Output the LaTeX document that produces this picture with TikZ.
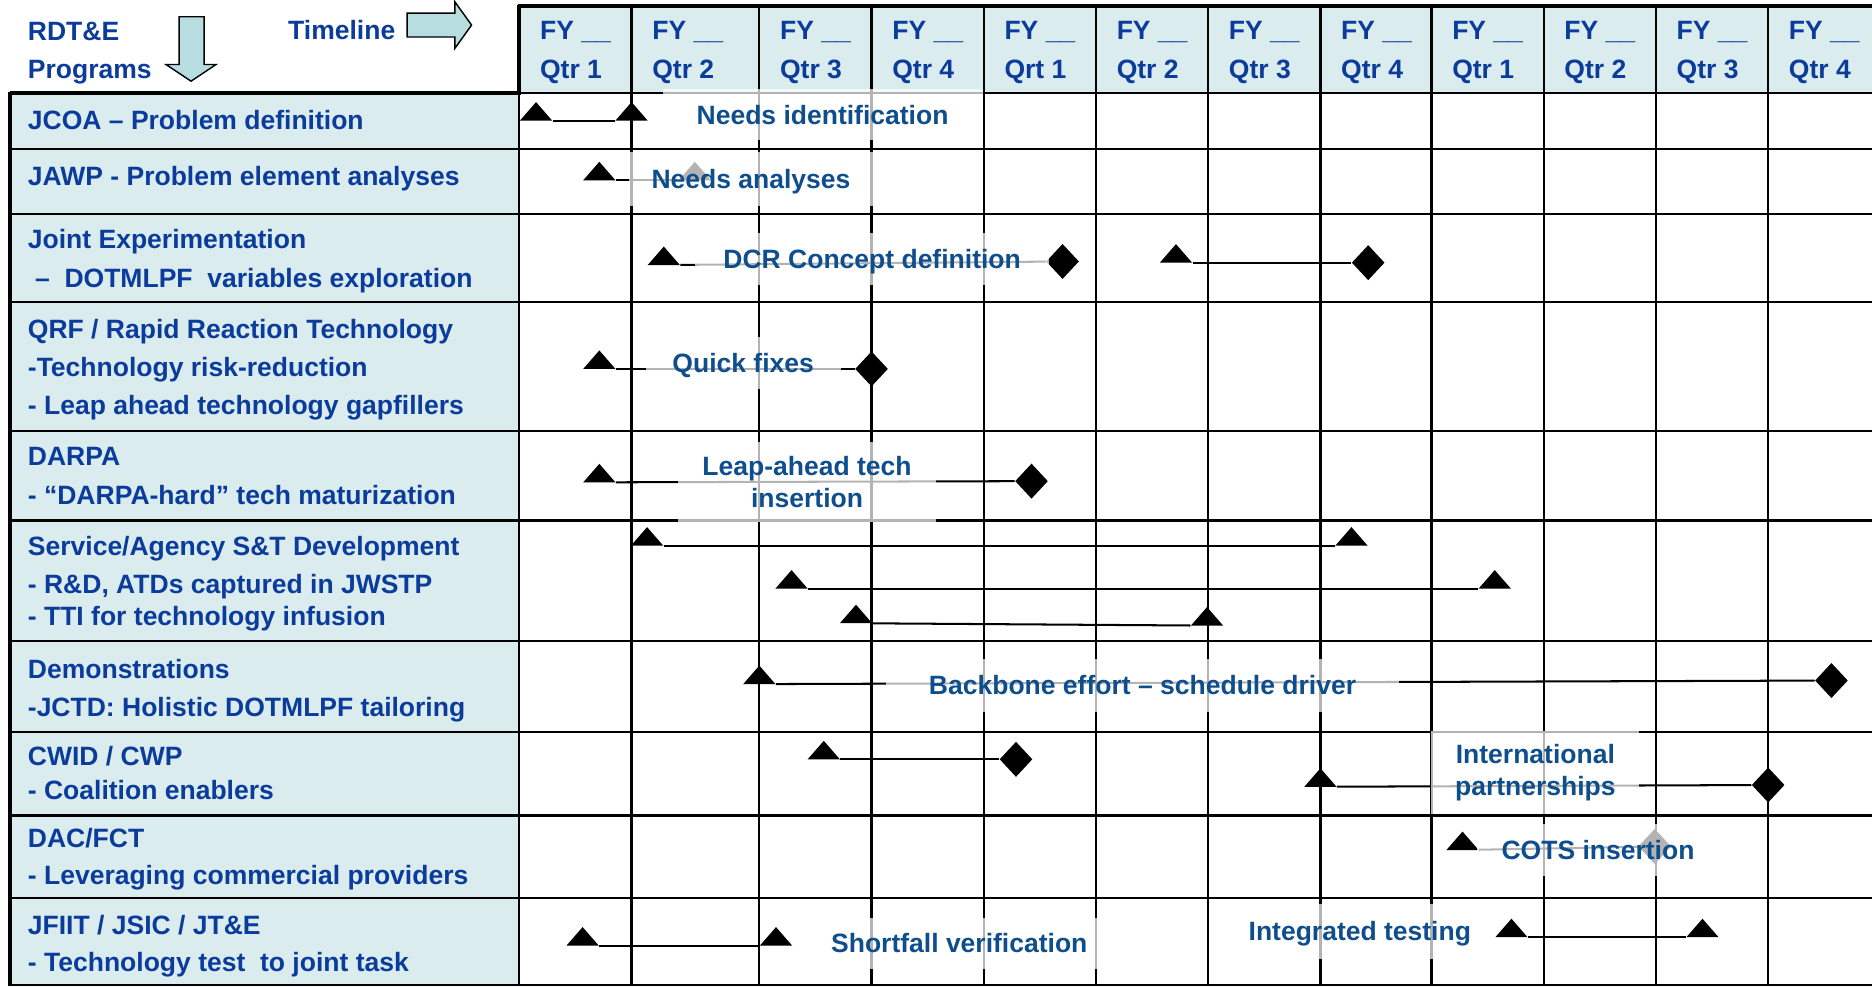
\documentclass[tikz,border=0pt]{standalone}
\usepackage{fontspec}
\setmainfont{Liberation Sans}
\usetikzlibrary{shapes.geometric}
\definecolor{lblue}{HTML}{DAECEE}
\definecolor{afill}{HTML}{B7DDE0}
\definecolor{dblue}{HTML}{0B3B9B}
\definecolor{cblue}{HTML}{0F4E8C}
\newcommand{\lblfont}{\fontsize{11.1}{13.5}\selectfont\bfseries}
\tikzset{
  rowtxt/.style={anchor=base west, inner sep=0pt, text=dblue, font=\lblfont},
  gridline/.style={line width=0.9pt, black},
  thickline/.style={line width=1.7pt, black},
  tri/.style={rectangle, inner sep=0pt, minimum width=13.5pt, minimum height=15.5pt,
    path picture={\fill[black] (path picture bounding box.west) -- (path picture bounding box.east) -- (path picture bounding box.north) -- cycle;}},
  dia/.style={diamond, fill=black, inner sep=0pt, minimum width=13.8pt, minimum height=14.8pt},
  conn/.style={line width=0.85pt, black},
  lbl/.style={fill=white, fill opacity=0.7, text opacity=1, text=cblue, font=\lblfont, inner sep=0pt, align=center},
  lblone/.style={lbl, text height=8pt, text depth=0pt},
  bigarrow/.style={fill=afill, draw=black, line width=0.6pt, line join=miter}
}
\begin{document}
\begin{tikzpicture}[x=0.5pt,y=-0.5pt]
\useasboundingbox (0,0) rectangle (1568,826);
% fills
\fill[lblue] (8,78) rectangle (435,826);
\fill[lblue] (435,5) rectangle (1568,78);
% grid
\foreach \x in {529,636,730,824,918,1012,1106,1199,1293,1387,1481}
  \draw[gridline] (\x,5) -- (\x,826);
\draw[gridline] (435,5) -- (435,826);
\foreach \y in {125,179,253,361,436,537,613,683,752}
  \draw[gridline] (8,\y) -- (1568,\y);
\draw[gridline] (435,78) -- (1568,78);
\draw[gridline] (8,825) -- (1568,825);
\draw[thickline] (8,78) -- (436,78);
\draw[thickline] (8,77) -- (8,826);
\draw[thickline] (434,5) -- (1568,5);
\draw[thickline] (435,4) -- (435,79);
% top-left arrows
\draw[bigarrow] (150,14) -- (171,14) -- (171,54) -- (181,54) -- (160,68) -- (139,54) -- (150,54) -- cycle;
\draw[bigarrow] (341,11) -- (381,11) -- (381,1.5) -- (395,21) -- (381,40.5) -- (381,31) -- (341,31) -- cycle;
\node[rowtxt] (rdte) at (23,33.5) {RDT\&E};
\node[rowtxt] (prog) at (23,66) {Programs};
\node[rowtxt] (tline) at (241,33) {Timeline};
% header
\foreach \x/\q [count=\i] in {435/Qtr 1,529/Qtr 2,636/Qtr 3,730/Qtr 4,824/Qrt 1,918/Qtr 2,1012/Qtr 3,1106/Qtr 4,1199/Qtr 1,1293/Qtr 2,1387/Qtr 3,1481/Qtr 4}{
  \node[rowtxt] (fy\i) at (\x+17,33) {FY \_\_};
  \node[rowtxt] (qt\i) at (\x+17,66) {\q};
}
% row labels
\node[rowtxt] (r1a) at (23,108.5) {JCOA -- Problem definition};
\node[rowtxt] (r2a) at (23,155.5) {JAWP - Problem element analyses};
\node[rowtxt] (r3a) at (23,208.5) {Joint Experimentation};
\node[rowtxt] (r3b) at (29,240.5) {--~~DOTMLPF~~variables exploration};
\node[rowtxt] (r4a) at (23,283.5) {QRF / Rapid Reaction Technology};
\node[rowtxt] (r4b) at (23,315.5) {-Technology risk-reduction};
\node[rowtxt] (r4c) at (23,347.5) {- Leap ahead technology gapfillers};
\node[rowtxt] (r5a) at (23,390) {DARPA};
\node[rowtxt] (r5b) at (23,422.5) {- “DARPA-hard” tech maturization};
\node[rowtxt] (r6a) at (23,465.5) {Service/Agency S\&T Development};
\node[rowtxt] (r6b) at (23,497.5) {- R\&D, ATDs captured in JWSTP};
\node[rowtxt] (r6c) at (23,523.5) {- TTI for technology infusion};
\node[rowtxt] (r7a) at (23,568) {Demonstrations};
\node[rowtxt] (r7b) at (23,600) {-JCTD: Holistic DOTMLPF tailoring};
\node[rowtxt] (r8a) at (23,641) {CWID / CWP};
\node[rowtxt] (r8b) at (23,670) {- Coalition enablers};
\node[rowtxt] (r9a) at (23,710) {DAC/FCT};
\node[rowtxt] (r9b) at (23,741) {- Leveraging commercial providers};
\node[rowtxt] (r10a) at (23,783) {JFIIT / JSIC / JT\&E};
\node[rowtxt] (r10b) at (23,814) {- Technology test~ to joint task};
% milestones and connectors
\node[tri] (m1a) at (449,101) {};
\node[tri] (m1b) at (529,101) {};
\draw[conn] (m1a) -- (m1b);
\node[tri] (m2a) at (502,151) {};
\node[tri] (m2b) at (582,151) {};
\draw[conn] (m2a) -- (m2b);
\node[tri] (m3a) at (556,222) {};
\node[dia] (m3b) at (890,219) {};
\draw[conn] (m3a) -- (m3b);
\node[tri] (m3c) at (985,220) {};
\node[dia] (m3d) at (1146,220) {};
\draw[conn] (m3c) -- (m3d);
\node[tri] (m4a) at (502,309) {};
\node[dia] (m4b) at (730,309) {};
\draw[conn] (m4a) -- (m4b);
\node[tri] (m5a) at (502,404) {};
\node[dia] (m5b) at (864,403) {};
\draw[conn] (m5a) -- (m5b);
\node[tri] (m6a) at (542,457) {};
\node[tri] (m6b) at (1132,457) {};
\draw[conn] (m6a) -- (m6b);
\node[tri] (m6c) at (663,493) {};
\node[tri] (m6d) at (1252,493) {};
\draw[conn] (m6c) -- (m6d);
\node[tri] (m6e) at (717,522) {};
\node[tri] (m6f) at (1011,524) {};
\draw[conn] (m6e) -- (m6f);
\node[tri] (m7a) at (636,573) {};
\node[dia] (m7b) at (1534,570) {};
\draw[conn] (m7a) -- (m7b);
\node[tri] (m8a) at (690,636) {};
\node[dia] (m8b) at (851,636) {};
\draw[conn] (m8a) -- (m8b);
\node[tri] (m8c) at (1106,659) {};
\node[dia] (m8d) at (1481,657.5) {};
\draw[conn] (m8c) -- (m8d);
\node[tri] (m9a) at (1225,712) {};
\node[dia] (m9b) at (1386,709) {};
\draw[conn] (m9a) -- (m9b);
\node[tri] (m10a) at (488,792) {};
\node[tri] (m10b) at (650,792) {};
\draw[conn] (m10a) -- (m10b);
\node[tri] (m10c) at (1266,785) {};
\node[tri] (m10d) at (1426,785) {};
\draw[conn] (m10c) -- (m10d);
% labels
\node[lblone, minimum width=134pt, minimum height=21.5pt] (l1) at (689,96) {Needs identification};
\node[lblone, minimum width=102pt, minimum height=22.5pt] (l2) at (629,150) {Needs analyses};
\node[lblone, minimum width=148.5pt, minimum height=21.5pt] (l3) at (730.5,217) {DCR Concept definition};
\node[lblone, minimum width=81.5pt, minimum height=22pt] (l4) at (622.5,304) {Quick fixes};
\node[lbl, minimum width=108pt, minimum height=33.5pt] (l5) at (676,404) {Leap-ahead tech\\insertion};
\node[lblone, minimum width=215pt, minimum height=22pt] (l7) at (957,574) {Backbone effort -- schedule driver};
\node[lbl, minimum width=87pt, minimum height=34.5pt] (l8) at (1286,647) {International\\partnerships};
\node[lblone, minimum width=101.5pt, minimum height=22pt] (l9) at (1338.5,712) {COTS insertion};
\node[lblone, minimum width=118.5pt, minimum height=21.5pt] (l10a) at (803.5,790) {Shortfall verification};
\node[lblone, minimum width=100pt, minimum height=23pt] (l10b) at (1139,780) {Integrated testing};
\end{tikzpicture}
\end{document}
